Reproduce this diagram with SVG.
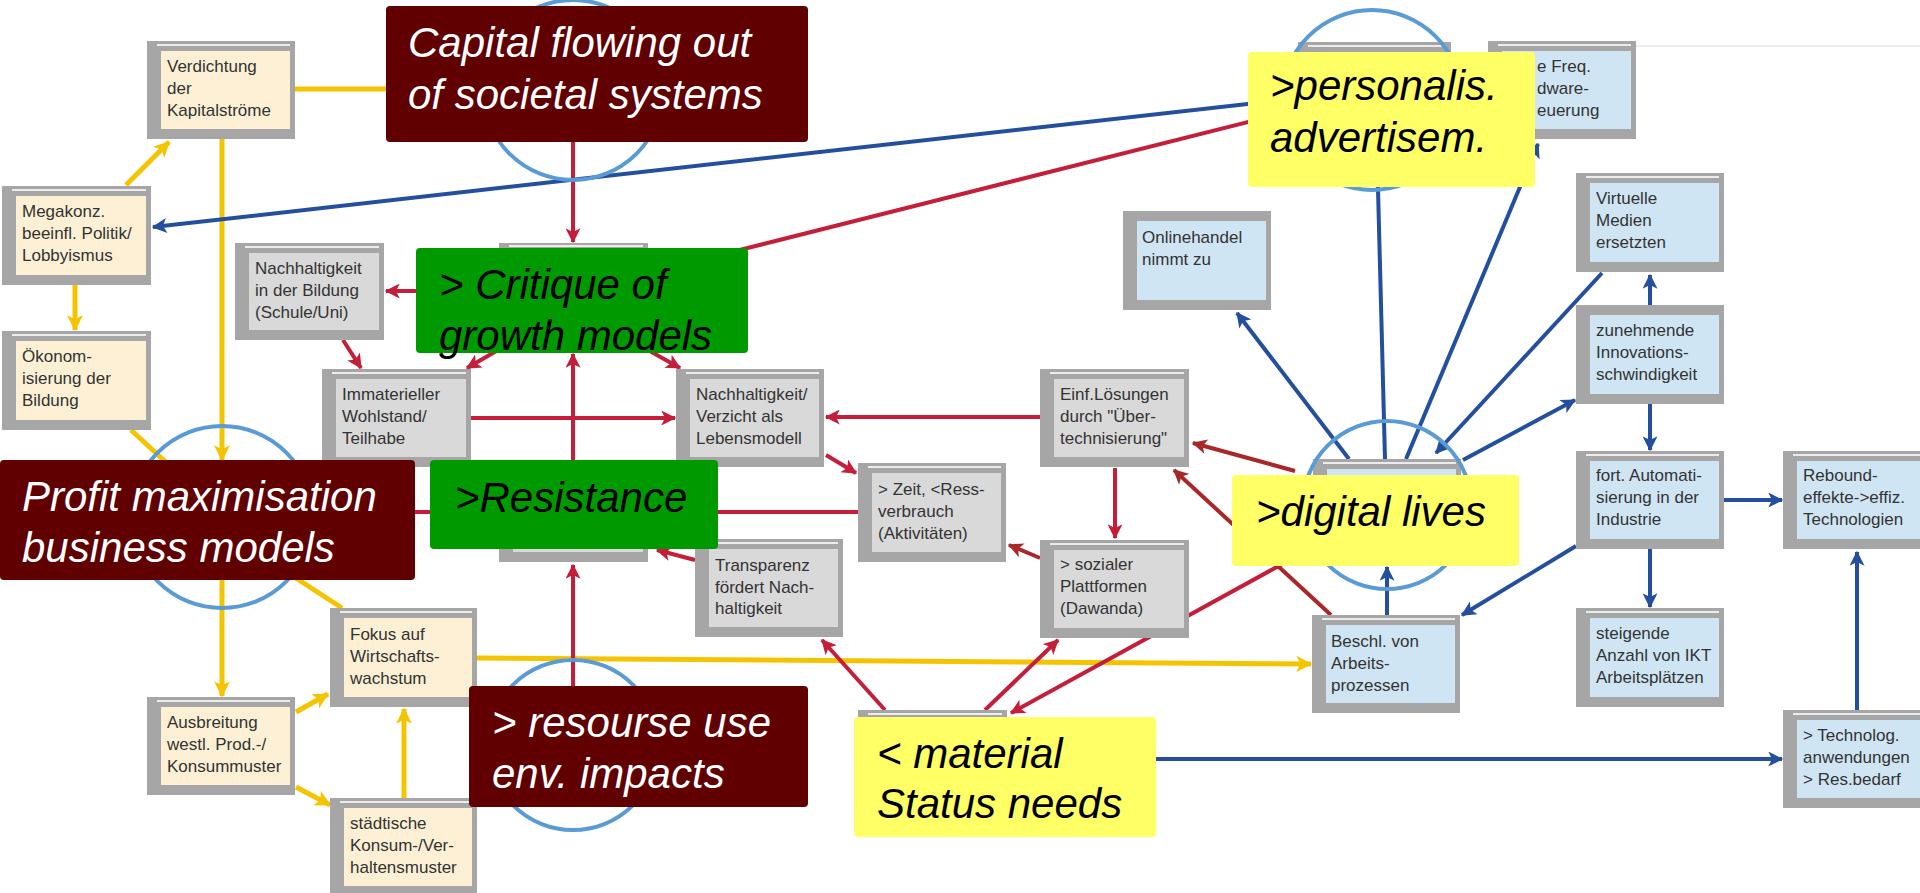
<svg xmlns="http://www.w3.org/2000/svg" width="1920" height="893" viewBox="0 0 1920 893">
<style>
.frame{fill:#a6a6a6}
.hl{stroke:#ececec;stroke-width:2}
.cream{fill:#fdf0d5}
.blue{fill:#cfe5f3}
.grey{fill:#d9d9d9}
.nt{font-family:"Liberation Sans",Arial,sans-serif;font-size:17px;fill:#333}
.lbl{font-family:"Liberation Sans",Arial,sans-serif;font-size:42px;font-style:italic}
.w{fill:#ffffff}
.k{fill:#000000}
.cy{stroke:#f5c400;stroke-width:5;fill:none}
.cr{stroke:#c41e3a;stroke-width:4;fill:none}
.cdr{stroke:#a8282a;stroke-width:4;fill:none}
.cb{stroke:#234f9e;stroke-width:4;fill:none}
.ring{fill:none;stroke:#5b9bd5;stroke-width:4}
.dred{fill:#600000}
.green{fill:#009900}
.yel{fill:#ffff66}
</style>
<defs>
<marker id="aY" viewBox="0 0 12 12" refX="11" refY="6" markerWidth="17" markerHeight="16" markerUnits="userSpaceOnUse" orient="auto"><path d="M0,0 L12,6 L0,12 L3,6 z" fill="#f5c400"/></marker>
<marker id="aR" viewBox="0 0 12 12" refX="11" refY="6" markerWidth="16" markerHeight="15" markerUnits="userSpaceOnUse" orient="auto"><path d="M0,0 L12,6 L0,12 L3,6 z" fill="#c41e3a"/></marker>
<marker id="aD" viewBox="0 0 12 12" refX="11" refY="6" markerWidth="16" markerHeight="15" markerUnits="userSpaceOnUse" orient="auto"><path d="M0,0 L12,6 L0,12 L3,6 z" fill="#a8282a"/></marker>
<marker id="aB" viewBox="0 0 12 12" refX="11" refY="6" markerWidth="16" markerHeight="15" markerUnits="userSpaceOnUse" orient="auto"><path d="M0,0 L12,6 L0,12 L3,6 z" fill="#234f9e"/></marker>
</defs>
<rect x="0" y="0" width="1920" height="893" fill="#ffffff"/>
<line x1="1636" y1="46" x2="1920" y2="46" stroke="#eeeeee" stroke-width="2"/>

<g id="connectors">
<!-- yellow -->
<line class="cy" x1="126" y1="185" x2="169" y2="142" marker-end="url(#aY)"/>
<line class="cy" x1="295" y1="89" x2="500" y2="89"/>
<line class="cy" x1="222" y1="139" x2="222" y2="460" marker-end="url(#aY)"/>
<line class="cy" x1="75" y1="285" x2="75" y2="330" marker-end="url(#aY)"/>
<line class="cy" x1="131" y1="430" x2="170" y2="466"/>
<line class="cy" x1="222" y1="580" x2="222" y2="696" marker-end="url(#aY)"/>
<line class="cy" x1="262" y1="556" x2="342" y2="608"/>
<line class="cy" x1="296" y1="712" x2="328" y2="694" marker-end="url(#aY)"/>
<line class="cy" x1="296" y1="787" x2="330" y2="805" marker-end="url(#aY)"/>
<line class="cy" x1="404" y1="798" x2="404" y2="709" marker-end="url(#aY)"/>
<line class="cy" x1="477" y1="658" x2="1311" y2="664" marker-end="url(#aY)"/>
<!-- red -->
<line class="cr" x1="573" y1="142" x2="573" y2="242" marker-end="url(#aR)"/>
<line class="cr" x1="499" y1="291" x2="386" y2="291" marker-end="url(#aR)"/>
<line class="cr" x1="343" y1="340" x2="361" y2="368" marker-end="url(#aR)"/>
<line class="cr" x1="505" y1="346" x2="467" y2="368" marker-end="url(#aR)"/>
<line class="cr" x1="471" y1="418" x2="675" y2="418" marker-end="url(#aR)"/>
<line class="cr" x1="573" y1="462" x2="573" y2="354" marker-end="url(#aR)"/>
<line class="cr" x1="648" y1="350" x2="680" y2="368" marker-end="url(#aR)"/>
<line class="cr" x1="648" y1="273" x2="1300" y2="109"/>
<line class="cr" x1="858" y1="512" x2="300" y2="512"/>
<line class="cr" x1="1040" y1="417" x2="826" y2="417" marker-end="url(#aR)"/>
<line class="cr" x1="826" y1="455" x2="856" y2="473" marker-end="url(#aR)"/>
<line class="cr" x1="1115" y1="468" x2="1115" y2="538" marker-end="url(#aR)"/>
<line class="cdr" x1="1040" y1="558" x2="1009" y2="545" marker-end="url(#aD)"/>
<line class="cr" x1="695" y1="560" x2="657" y2="550" marker-end="url(#aR)"/>
<line class="cr" x1="573" y1="700" x2="573" y2="565" marker-end="url(#aR)"/>
<line class="cr" x1="885" y1="710" x2="822" y2="640" marker-end="url(#aR)"/>
<line class="cr" x1="985" y1="710" x2="1058" y2="640" marker-end="url(#aR)"/>
<line class="cr" x1="1295" y1="557" x2="1011" y2="713" marker-end="url(#aR)"/>
<line class="cdr" x1="1295" y1="471" x2="1193" y2="443" marker-end="url(#aD)"/>
<line class="cdr" x1="1331" y1="615" x2="1174" y2="470" marker-end="url(#aD)"/>
<!-- blue -->
<line class="cb" x1="1300" y1="98" x2="153" y2="227" marker-end="url(#aB)"/>
<line class="cb" x1="1349" y1="459" x2="1237" y2="313" marker-end="url(#aB)"/>
<line class="cb" x1="1385" y1="459" x2="1377" y2="150"/>
<line class="cb" x1="1406" y1="459" x2="1538" y2="144" marker-end="url(#aB)"/>
<line class="cb" x1="1602" y1="273" x2="1436" y2="453" marker-end="url(#aB)"/>
<line class="cb" x1="1463" y1="460" x2="1575" y2="400" marker-end="url(#aB)"/>
<line class="cb" x1="1650" y1="305" x2="1650" y2="275" marker-end="url(#aB)"/>
<line class="cb" x1="1650" y1="404" x2="1650" y2="450" marker-end="url(#aB)"/>
<line class="cb" x1="1724" y1="500" x2="1782" y2="500" marker-end="url(#aB)"/>
<line class="cb" x1="1650" y1="549" x2="1650" y2="607" marker-end="url(#aB)"/>
<line class="cb" x1="1576" y1="546" x2="1462" y2="615" marker-end="url(#aB)"/>
<line class="cb" x1="1387" y1="615" x2="1387" y2="567" marker-end="url(#aB)"/>
<line class="cb" x1="1007" y1="759" x2="1782" y2="759" marker-end="url(#aB)"/>
<line class="cb" x1="1857" y1="710" x2="1857" y2="552" marker-end="url(#aB)"/>
</g>

<g id="n-verdichtung"><rect class="frame" x="147" y="41" width="148" height="98"/><rect class="cream" x="161" y="51" width="129" height="78"/><line class="hl" x1="157" y1="45" x2="290" y2="45"/><text class="nt"><tspan x="167" y="72">Verdichtung</tspan><tspan x="167" y="94">der</tspan><tspan x="167" y="116">Kapitalströme</tspan></text></g>
<g id="n-megakonz"><rect class="frame" x="2" y="186" width="149" height="99"/><rect class="cream" x="16" y="196" width="130" height="79"/><line class="hl" x1="12" y1="190" x2="146" y2="190"/><text class="nt"><tspan x="22" y="217">Megakonz.</tspan><tspan x="22" y="239">beeinfl. Politik/</tspan><tspan x="22" y="261">Lobbyismus</tspan></text></g>
<g id="n-oekonom"><rect class="frame" x="2" y="331" width="149" height="99"/><rect class="cream" x="16" y="341" width="130" height="79"/><line class="hl" x1="12" y1="335" x2="146" y2="335"/><text class="nt"><tspan x="22" y="362">Ökonom-</tspan><tspan x="22" y="384">isierung der</tspan><tspan x="22" y="406">Bildung</tspan></text></g>
<g id="n-bildung"><rect class="frame" x="235" y="243" width="149" height="97"/><rect class="grey" x="249" y="253" width="130" height="77"/><line class="hl" x1="245" y1="247" x2="379" y2="247"/><text class="nt"><tspan x="255" y="274">Nachhaltigkeit</tspan><tspan x="255" y="296">in der Bildung</tspan><tspan x="255" y="318">(Schule/Uni)</tspan></text></g>
<g id="n-immateriell"><rect class="frame" x="322" y="369" width="149" height="98"/><rect class="grey" x="336" y="379" width="130" height="78"/><line class="hl" x1="332" y1="373" x2="466" y2="373"/><text class="nt"><tspan x="342" y="400">Immaterieller</tspan><tspan x="342" y="422">Wohlstand/</tspan><tspan x="342" y="444">Teilhabe</tspan></text></g>
<g id="n-verzicht"><rect class="frame" x="676" y="369" width="148" height="98"/><rect class="grey" x="690" y="379" width="129" height="78"/><line class="hl" x1="686" y1="373" x2="819" y2="373"/><text class="nt"><tspan x="696" y="400">Nachhaltigkeit/</tspan><tspan x="696" y="422">Verzicht als</tspan><tspan x="696" y="444">Lebensmodell</tspan></text></g>
<g id="n-zeit"><rect class="frame" x="858" y="463" width="148" height="99"/><rect class="grey" x="872" y="473" width="129" height="79"/><line class="hl" x1="868" y1="467" x2="1001" y2="467"/><text class="nt"><tspan x="878" y="495">&gt; Zeit, &lt;Ress-</tspan><tspan x="878" y="517">verbrauch</tspan><tspan x="878" y="539">(Aktivitäten)</tspan></text></g>
<g id="n-transparenz"><rect class="frame" x="695" y="539" width="148" height="98"/><rect class="grey" x="709" y="549" width="129" height="78"/><line class="hl" x1="705" y1="543" x2="838" y2="543"/><text class="nt"><tspan x="715" y="571">Transparenz</tspan><tspan x="715" y="593">fördert Nach-</tspan><tspan x="715" y="614">haltigkeit</tspan></text></g>
<g id="n-einf"><rect class="frame" x="1040" y="369" width="149" height="98"/><rect class="grey" x="1054" y="379" width="130" height="78"/><line class="hl" x1="1050" y1="373" x2="1184" y2="373"/><text class="nt"><tspan x="1060" y="400">Einf.Lösungen</tspan><tspan x="1060" y="422">durch "Über-</tspan><tspan x="1060" y="444">technisierung"</tspan></text></g>
<g id="n-sozial"><rect class="frame" x="1040" y="540" width="149" height="98"/><rect class="grey" x="1054" y="550" width="130" height="78"/><line class="hl" x1="1050" y1="544" x2="1184" y2="544"/><text class="nt"><tspan x="1060" y="570">&gt; sozialer</tspan><tspan x="1060" y="592">Plattformen</tspan><tspan x="1060" y="614">(Dawanda)</tspan></text></g>
<g id="n-online"><rect class="frame" x="1123" y="211" width="148" height="99"/><rect class="blue" x="1137" y="221" width="129" height="79"/><text class="nt"><tspan x="1142" y="243">Onlinehandel</tspan><tspan x="1142" y="265">nimmt zu</tspan></text></g>
<g id="n-freq"><rect class="frame" x="1488" y="41" width="148" height="98"/><rect class="blue" x="1502" y="51" width="129" height="78"/><line class="hl" x1="1498" y1="45" x2="1631" y2="45"/><text class="nt"><tspan x="1537" y="72">e Freq.</tspan><tspan x="1537" y="94">dware-</tspan><tspan x="1537" y="116">euerung</tspan></text></g>
<g id="n-virtuell"><rect class="frame" x="1576" y="173" width="148" height="99"/><rect class="blue" x="1590" y="183" width="129" height="79"/><line class="hl" x1="1586" y1="177" x2="1719" y2="177"/><text class="nt"><tspan x="1596" y="204">Virtuelle</tspan><tspan x="1596" y="226">Medien</tspan><tspan x="1596" y="248">ersetzten</tspan></text></g>
<g id="n-zunehmend"><rect class="frame" x="1576" y="305" width="148" height="99"/><rect class="blue" x="1590" y="315" width="129" height="79"/><text class="nt"><tspan x="1596" y="336">zunehmende</tspan><tspan x="1596" y="358">Innovations-</tspan><tspan x="1596" y="380">schwindigkeit</tspan></text></g>
<g id="n-fort"><rect class="frame" x="1576" y="451" width="148" height="98"/><rect class="blue" x="1590" y="461" width="129" height="78"/><line class="hl" x1="1586" y1="455" x2="1719" y2="455"/><text class="nt"><tspan x="1596" y="481">fort. Automati-</tspan><tspan x="1596" y="503">sierung in der</tspan><tspan x="1596" y="525">Industrie</tspan></text></g>
<g id="n-rebound"><rect class="frame" x="1783" y="451" width="148" height="98"/><rect class="blue" x="1797" y="461" width="129" height="78"/><line class="hl" x1="1793" y1="455" x2="1926" y2="455"/><text class="nt"><tspan x="1803" y="481">Rebound-</tspan><tspan x="1803" y="503">effekte-&gt;effiz.</tspan><tspan x="1803" y="525">Technologien</tspan></text></g>
<g id="n-beschl"><rect class="frame" x="1312" y="615" width="148" height="98"/><rect class="blue" x="1326" y="625" width="129" height="78"/><line class="hl" x1="1322" y1="619" x2="1455" y2="619"/><text class="nt"><tspan x="1331" y="647">Beschl. von</tspan><tspan x="1331" y="669">Arbeits-</tspan><tspan x="1331" y="691">prozessen</tspan></text></g>
<g id="n-steigend"><rect class="frame" x="1576" y="608" width="148" height="99"/><rect class="blue" x="1590" y="618" width="129" height="79"/><line class="hl" x1="1586" y1="612" x2="1719" y2="612"/><text class="nt"><tspan x="1596" y="639">steigende</tspan><tspan x="1596" y="661">Anzahl von IKT</tspan><tspan x="1596" y="683">Arbeitsplätzen</tspan></text></g>
<g id="n-technolog"><rect class="frame" x="1783" y="710" width="148" height="98"/><rect class="blue" x="1797" y="720" width="129" height="78"/><line class="hl" x1="1793" y1="714" x2="1926" y2="714"/><text class="nt"><tspan x="1803" y="741">&gt; Technolog.</tspan><tspan x="1803" y="763">anwendungen</tspan><tspan x="1803" y="785">&gt; Res.bedarf</tspan></text></g>
<g id="n-fokus"><rect class="frame" x="330" y="608" width="147" height="99"/><rect class="cream" x="344" y="618" width="128" height="79"/><line class="hl" x1="340" y1="612" x2="472" y2="612"/><text class="nt"><tspan x="350" y="640">Fokus auf</tspan><tspan x="350" y="662">Wirtschafts-</tspan><tspan x="350" y="684">wachstum</tspan></text></g>
<g id="n-ausbreitung"><rect class="frame" x="147" y="697" width="148" height="98"/><rect class="cream" x="161" y="707" width="129" height="78"/><line class="hl" x1="157" y1="701" x2="290" y2="701"/><text class="nt"><tspan x="167" y="728">Ausbreitung</tspan><tspan x="167" y="750">westl. Prod.-/</tspan><tspan x="167" y="772">Konsummuster</tspan></text></g>
<g id="n-staedtisch"><rect class="frame" x="330" y="798" width="147" height="98"/><rect class="cream" x="344" y="808" width="128" height="78"/><line class="hl" x1="340" y1="802" x2="472" y2="802"/><text class="nt"><tspan x="350" y="829">städtische</tspan><tspan x="350" y="851">Konsum-/Ver-</tspan><tspan x="350" y="873">haltensmuster</tspan></text></g>

<g id="n-hidden-capital"><rect class="frame" x="499" y="40" width="149" height="98"/></g>
<g id="n-hidden-critique"><rect class="frame" x="499" y="243" width="149" height="110"/><line class="hl" x1="509" y1="246" x2="643" y2="246"/></g>
<g id="n-hidden-resistance"><rect class="frame" x="499" y="463" width="149" height="99"/><rect class="grey" x="513" y="473" width="130" height="79"/></g>
<g id="n-hidden-profit"><rect class="frame" x="148" y="470" width="148" height="98"/></g>
<g id="n-hidden-resource"><rect class="frame" x="499" y="700" width="149" height="98"/></g>
<g id="n-hidden-personalis"><rect class="frame" x="1298" y="42" width="153" height="98"/><line class="hl" x1="1308" y1="46" x2="1446" y2="46"/></g>
<g id="n-hidden-digital"><rect class="frame" x="1313" y="459" width="148" height="98"/><line class="hl" x1="1323" y1="463" x2="1456" y2="463"/><rect class="blue" x="1327" y="469" width="129" height="78"/></g>
<g id="n-hidden-material"><rect class="frame" x="858" y="710" width="149" height="98"/><line class="hl" x1="868" y1="714" x2="1002" y2="714"/></g>

<g id="rings">
<circle class="ring" cx="573" cy="90" r="90"/>
<circle class="ring" cx="222" cy="517" r="91"/>
<circle class="ring" cx="573" cy="745" r="85"/>
<circle class="ring" cx="1387" cy="505" r="84"/>
<circle class="ring" cx="1372" cy="100" r="90"/>
</g>

<g id="l-capital"><rect class="dred" x="386" y="6" width="422" height="136" rx="4"/><text class="lbl w"><tspan x="408" y="57">Capital flowing out</tspan><tspan x="408" y="109">of societal systems</tspan></text></g>
<g id="l-critique"><rect class="green" x="416" y="248" width="332" height="105" rx="4"/><text class="lbl k"><tspan x="439" y="299">&gt; Critique of</tspan><tspan x="439" y="350">growth models</tspan></text></g>
<g id="l-profit"><rect class="dred" x="0" y="460" width="415" height="120" rx="4"/><text class="lbl w"><tspan x="22" y="511">Profit maximisation</tspan><tspan x="22" y="562">business models</tspan></text></g>
<g id="l-resistance"><rect class="green" x="430" y="460" width="288" height="89" rx="4"/><text class="lbl k" x="455" y="512">&gt;Resistance</text></g>
<g id="l-resource"><rect class="dred" x="469" y="686" width="339" height="121" rx="4"/><text class="lbl w"><tspan x="492" y="737">&gt; resourse use</tspan><tspan x="492" y="788">env. impacts</tspan></text></g>
<g id="l-personalis"><rect class="yel" x="1248" y="52" width="287" height="135" rx="4"/><text class="lbl k"><tspan x="1270" y="100">&gt;personalis.</tspan><tspan x="1270" y="152">advertisem.</tspan></text></g>
<g id="l-digital"><rect class="yel" x="1232" y="475" width="287" height="91" rx="4"/><text class="lbl k" x="1256" y="526">&gt;digital lives</text></g>
<g id="l-material"><rect class="yel" x="854" y="717" width="302" height="120" rx="4"/><text class="lbl k"><tspan x="877" y="768">&lt; material</tspan><tspan x="877" y="818">Status needs</tspan></text></g>
</svg>
